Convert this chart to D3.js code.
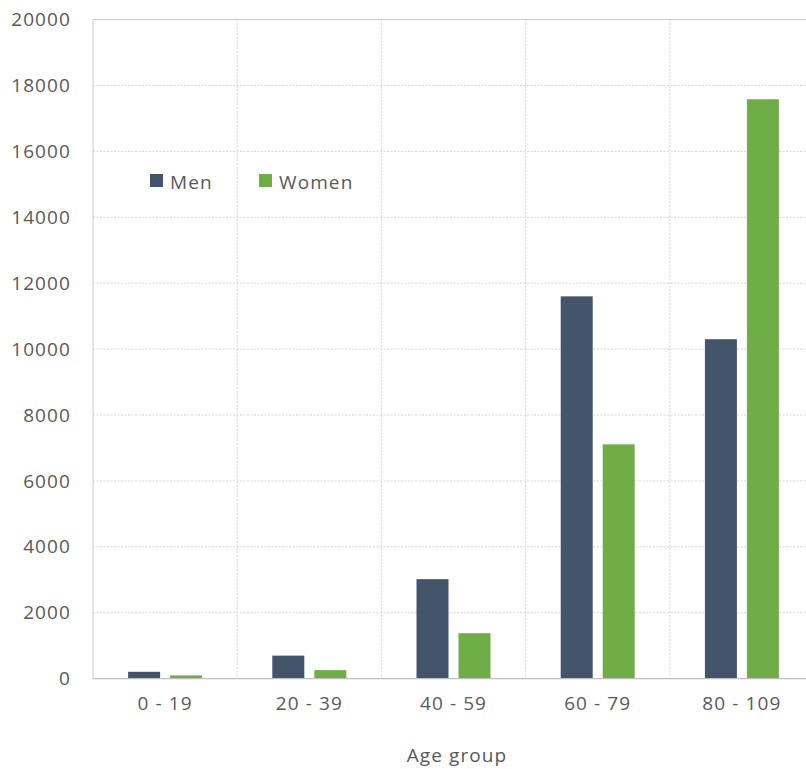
<!DOCTYPE html>
<html><head><meta charset="utf-8">
<script src="https://cdn.jsdelivr.net/npm/d3@7"></script>
<style>body{margin:0;background:#fff}svg{display:block}svg text{letter-spacing:1.1px}</style>
</head><body>
<script>
const categories = ["0 - 19", "20 - 39", "40 - 59", "60 - 79", "80 - 109"];
const seriesNames = ["Men", "Women"];
const men = [210, 700, 3020, 11600, 10300];
const women = [100, 260, 1380, 7110, 17580];
const yTicks = [0, 2000, 4000, 6000, 8000, 10000, 12000, 14000, 16000, 18000, 20000];
const colors = ["#44546A", "#70AD47"];
const xTitle = "Age group";

const W = 806, H = 769;
const mLeft = 93, mTop = 19.5, plotW = 721, plotH = 659.2;
const font = "'Open Sans', sans-serif";
const textColor = "#595959";

const svg = d3.select("body").append("svg").attr("width", W).attr("height", H);
const g = svg.append("g").attr("transform", `translate(${mLeft},${mTop})`);

const x0 = d3.scaleBand().domain(categories).range([0, plotW]).paddingInner(0).paddingOuter(0);
const x1 = d3.scaleBand().domain(seriesNames).range([0, x0.bandwidth()]).paddingInner(10/42).paddingOuter(0.836);
const y = d3.scaleLinear().domain([0, 20000]).range([plotH, 0]);

// horizontal gridlines
g.append("g").selectAll("line").data(yTicks.filter(d => d > 0 && d < 20000)).join("line")
  .attr("x1", 0).attr("x2", plotW).attr("y1", d => y(d)).attr("y2", d => y(d))
  .attr("stroke", "#d4d4d4").attr("stroke-width", 1).attr("stroke-dasharray", "2,1.5");
// vertical gridlines at category boundaries
g.append("g").selectAll("line").data(categories.slice(1)).join("line")
  .attr("x1", d => x0(d)).attr("x2", d => x0(d)).attr("y1", 0).attr("y2", plotH)
  .attr("stroke", "#d4d4d4").attr("stroke-width", 1).attr("stroke-dasharray", "2,1.5");
// border top and left
g.append("line").attr("x1", 0).attr("x2", plotW).attr("y1", 0).attr("y2", 0).attr("stroke", "#c8c8c8");
g.append("line").attr("x1", 0).attr("x2", 0).attr("y1", 0).attr("y2", plotH).attr("stroke", "#c8c8c8");

// bars
const data = categories.map((c, i) => ({cat: c, vals: [men[i], women[i]]}));
const grp = g.append("g").selectAll("g").data(data).join("g").attr("transform", d => `translate(${x0(d.cat)},0)`);
grp.selectAll("rect").data(d => d.vals.map((v, j) => ({s: seriesNames[j], v, j}))).join("rect")
  .attr("x", d => x1(d.s)).attr("width", x1.bandwidth())
  .attr("y", d => y(d.v)).attr("height", d => plotH - y(d.v))
  .attr("fill", d => colors[d.j]);

// x axis line
g.append("line").attr("x1", 0).attr("x2", plotW).attr("y1", plotH).attr("y2", plotH).attr("stroke", "#bfbfbf").attr("stroke-width", 1.2);

// y tick labels
const yAxis = d3.axisLeft(y).tickValues(yTicks).tickSize(0).tickPadding(22).tickFormat(d3.format("d"));
const ya = g.append("g").call(yAxis);
ya.select(".domain").remove();
ya.selectAll("text").attr("font-family", font).attr("font-size", 19).attr("fill", textColor);

// x tick labels
const xAxis = d3.axisBottom(x0).tickSize(0).tickPadding(18);
const xa = g.append("g").attr("transform", `translate(0,${plotH})`).call(xAxis);
xa.select(".domain").remove();
xa.selectAll("text").attr("font-family", font).attr("font-size", 19).attr("fill", textColor);

// x title
svg.append("text").attr("x", 457).attr("y", 762).attr("text-anchor", "middle")
  .attr("font-family", font).attr("font-size", 19).attr("fill", textColor).text(xTitle);

// legend
const legX = [150, 259];
const leg = svg.append("g").selectAll("g").data(seriesNames).join("g")
  .attr("transform", (d, i) => `translate(${legX[i]},174)`);
leg.append("rect").attr("width", 13).attr("height", 13).attr("fill", (d, i) => colors[i]);
leg.append("text").attr("x", 20).attr("y", 14.5).attr("font-family", font).attr("font-size", 19)
  .attr("fill", textColor).text(d => d);
</script>
</body></html>
